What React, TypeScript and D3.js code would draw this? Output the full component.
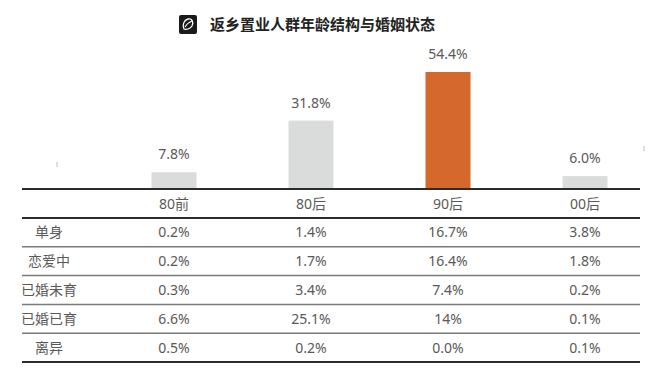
import React from "react";
import * as d3 from "d3";

const title = "返乡置业人群年龄结构与婚姻状态";
const categories = ["80前", "80后", "90后", "00后"];
const shares = [7.8, 31.8, 54.4, 6.0];
const highlight = "90后";
const rowLabels = ["单身", "恋爱中", "已婚未育", "已婚已育", "离异"];
const rowValues = [
  ["0.2%", "1.4%", "16.7%", "3.8%"],
  ["0.2%", "1.7%", "16.4%", "1.8%"],
  ["0.3%", "3.4%", "7.4%", "0.2%"],
  ["6.6%", "25.1%", "14%", "0.1%"],
  ["0.5%", "0.2%", "0.0%", "0.1%"],
];

const W = 660;
const H = 380;
const left = 22;
const right = 640;
const baseY = 189;
const catLineY = 218;
const rowH = 28.8;
const font = "'Noto Sans', 'Noto Sans CJK SC', sans-serif";
const textColor = "#595959";

export default function App() {
  const x = d3.scalePoint<string>().domain(categories).range([174, 585]);
  const y = d3.scaleLinear().domain([0, 54.4]).range([baseY, 72]);
  const barW = 45;
  const rowY = (i: number) => catLineY + i * rowH;

  return (
    <svg width={W} height={H} style={{ position: "absolute", left: 0, top: 0, background: "#fff" }}>
      {/* title icon */}
      <g transform="translate(179,15)">
        <rect width={18} height={19} rx={2} fill="#1a1a1a" />
        <path d="M5,14 C3,10 5,5 9,4 C13,3 15,7 13,11 C11,14 7,15 5,14 Z" fill="none" stroke="#fff" strokeWidth={1.3} />
        <path d="M6,12 C8,9 10,7 13,6" fill="none" stroke="#fff" strokeWidth={1.1} />
      </g>
      <text x={210} y={30} fontFamily={font} fontSize={15} fontWeight={700} fill="#222">{title}</text>

      {/* tiny artifacts */}
      <line x1={57} x2={57} y1={162} y2={167} stroke="#bbb" strokeWidth={1} />
      <line x1={644} x2={644} y1={146} y2={151} stroke="#bbb" strokeWidth={1} />

      {/* bars */}
      {categories.map((c, i) => (
        <g key={c}>
          <rect
            x={(x(c) as number) - barW / 2}
            y={y(shares[i])}
            width={barW}
            height={baseY - y(shares[i])}
            fill={c === highlight ? "#d4682d" : "#dadcdb"}
          />
          <text
            x={x(c) as number}
            y={y(shares[i]) - 13}
            textAnchor="middle"
            fontFamily={font}
            fontSize={14}
            fill={textColor}
          >
            {shares[i].toFixed(1)}%
          </text>
          <text
            x={x(c) as number}
            y={209}
            textAnchor="middle"
            fontFamily={font}
            fontSize={14}
            fill={textColor}
          >
            {c}
          </text>
        </g>
      ))}

      {/* table lines */}
      <line x1={left} x2={right} y1={baseY} y2={baseY} stroke="#2b2b2b" strokeWidth={2} />
      <line x1={left} x2={right} y1={catLineY} y2={catLineY} stroke="#2b2b2b" strokeWidth={2} />
      {rowLabels.slice(0, -1).map((_, i) => (
        <line key={i} x1={left} x2={right} y1={rowY(i + 1)} y2={rowY(i + 1)} stroke="#7a7a7a" strokeWidth={1.5} />
      ))}
      <line x1={left} x2={right} y1={rowY(rowLabels.length)} y2={rowY(rowLabels.length)} stroke="#2b2b2b" strokeWidth={2} />

      {/* table rows */}
      {rowLabels.map((r, i) => (
        <g key={r}>
          <text
            x={49}
            y={rowY(i) + rowH / 2 + 5}
            textAnchor="middle"
            fontFamily={font}
            fontSize={14}
            fill={textColor}
          >
            {r}
          </text>
          {rowValues[i].map((v, j) => (
            <text
              key={j}
              x={x(categories[j]) as number}
              y={rowY(i) + rowH / 2 + 5}
              textAnchor="middle"
              fontFamily={font}
              fontSize={14}
              fill={textColor}
            >
              {v}
            </text>
          ))}
        </g>
      ))}
    </svg>
  );
}
